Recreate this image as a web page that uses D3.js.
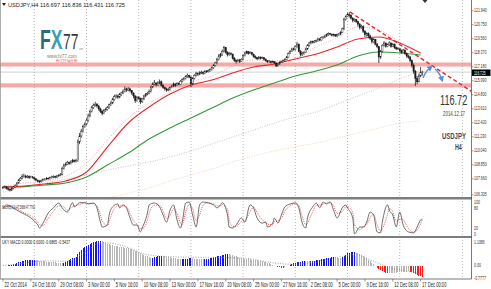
<!DOCTYPE html>
<html>
<head>
<meta charset="utf-8">
<script src="https://cdn.jsdelivr.net/npm/d3@7"></script>
<style>
  html, body { margin: 0; padding: 0; background: #fff; }
  svg { display: block; font-family: "Liberation Sans", Arial, sans-serif; }
</style>
</head>
<body>
<svg id="chart" width="491" height="289"></svg>
<script>
// ---- data (USDJPY H4, 22 Oct - 17 Dec 2014) ----
var firstOpen = 106.90;
var closes = [
  106.92,106.98,106.85,106.78,106.70,106.85, 106.95,107.10,107.30,107.55,107.70,107.85,
  107.90,107.80,107.88,107.75,107.82,107.78, 107.65,107.55,107.45,107.40,107.52,107.60,
  107.62,107.70,107.68,107.75,107.80,107.85, 107.80,107.90,107.95,108.00,108.55,108.80,
  108.90,109.05,108.95,109.10,109.20,109.15, 109.20,110.80,111.30,111.70,112.10,112.30,
  112.60,113.00,113.40,113.70,113.90,114.00, 113.85,113.60,113.40,113.20,113.45,113.55,
  113.70,113.95,114.10,114.40,114.65,114.70, 114.60,114.80,114.95,115.10,115.30,115.20,
  115.30,115.15,114.95,114.70,114.30,114.60, 114.50,114.20,114.45,114.70,114.85,114.90,
  115.10,115.45,115.70,115.80,115.65,115.80, 115.90,115.60,115.40,115.30,115.20,115.25,
  115.40,115.55,115.70,115.60,115.75,115.70, 115.95,116.10,116.20,116.35,116.45,116.30,
  115.70,116.20,116.45,116.60,116.55,116.65, 116.70,116.60,116.80,116.75,116.85,116.95,
  117.10,117.30,117.50,117.80,118.10,118.20, 118.50,118.80,118.40,118.20,118.30,118.25,
  117.90,117.70,117.60,117.75,117.65,117.80, 118.15,118.35,118.45,118.30,118.40,118.25,
  118.05,117.95,117.85,118.00,117.90,117.95, 117.80,117.70,117.60,117.65,117.55,117.60,
  117.50,117.25,117.40,117.55,117.60,117.70, 117.80,118.00,118.30,118.50,118.70,118.65,
  118.90,119.10,118.50,118.20,118.30,118.40, 118.70,119.00,119.20,119.30,119.25,119.35,
  119.40,119.55,119.45,119.65,119.70,119.80, 119.90,120.00,119.95,119.85,119.90,119.80,
  119.90,119.95,120.10,120.40,121.20,121.45, 121.60,121.55,121.30,121.10,121.20,121.00,
  120.80,120.50,120.60,120.20,119.90,120.00, 119.80,119.60,119.30,119.50,119.10,118.90,
  118.00,118.50,119.00,119.20,118.90,119.05, 119.20,118.90,119.10,118.80,118.70,118.75,
  118.55,118.40,118.60,118.30,118.10,118.00, 117.70,117.30,116.80,116.20,115.90,116.40,
  116.70,116.725
];
var highs = [
  107.05,107.10,107.02,106.92,106.85,106.95, 107.05,107.18,107.38,107.65,107.82,108.05,
  108.10,108.00,107.98,107.95,107.92,107.90, 107.85,107.72,107.60,107.55,107.60,107.70,
  107.72,107.80,107.78,107.85,107.92,107.95, 107.92,108.00,108.05,108.15,108.70,108.95,
  109.05,109.18,109.12,109.22,109.35,109.30, 109.35,111.00,111.55,111.90,112.25,112.45,
  112.80,113.20,113.55,113.85,114.05,114.20, 114.10,113.95,113.70,113.50,113.60,113.70,
  113.85,114.05,114.25,114.55,114.80,114.85, 114.80,114.95,115.05,115.25,115.50,115.40,
  115.45,115.40,115.20,115.00,114.75,114.70, 114.70,114.55,114.55,114.80,114.95,115.05,
  115.25,115.55,115.85,116.05,115.85,115.95, 116.10,116.00,115.70,115.50,115.40,115.40,
  115.50,115.65,115.85,115.80,115.85,115.85, 116.05,116.20,116.30,116.45,116.60,116.50,
  116.40,116.30,116.55,116.75,116.70,116.80, 116.85,116.80,116.90,116.90,116.95,117.05,
  117.20,117.40,117.60,117.95,118.25,118.35, 118.65,118.95,118.85,118.50,118.45,118.40,
  118.30,118.00,117.80,117.85,117.85,117.90, 118.25,118.45,118.55,118.50,118.50,118.45,
  118.30,118.15,118.00,118.10,118.05,118.05, 118.00,117.90,117.75,117.75,117.70,117.70,
  117.65,117.55,117.50,117.65,117.70,117.80, 117.90,118.10,118.40,118.60,118.80,118.80,
  119.00,119.30,119.15,118.60,118.45,118.50, 118.80,119.10,119.30,119.40,119.40,119.45,
  119.50,119.65,119.60,119.75,119.80,119.90, 120.00,120.10,120.05,120.00,120.00,119.95,
  120.00,120.05,120.20,120.50,121.35,121.55, 121.80,121.85,121.65,121.40,121.30,121.25,
  121.10,120.90,120.75,120.70,120.30,120.10, 120.10,119.90,119.65,119.60,119.55,119.20,
  118.95,118.60,119.10,119.35,119.25,119.15, 119.35,119.25,119.20,119.15,118.90,118.85,
  118.80,118.65,118.70,118.65,118.40,118.20, 118.10,117.80,117.45,116.90,116.40,116.60,
  117.15,116.836
];
var lows = [
  106.80,106.85,106.75,106.66,106.58,106.62, 106.78,106.90,107.02,107.25,107.48,107.62,
  107.75,107.70,107.72,107.65,107.70,107.68, 107.55,107.45,107.35,107.28,107.35,107.45,
  107.50,107.55,107.58,107.60,107.68,107.72, 107.70,107.72,107.82,107.88,107.95,108.45,
  108.70,108.82,108.85,108.88,109.00,109.05, 109.05,109.10,110.60,111.15,111.60,112.00,
  112.20,112.50,112.90,113.30,113.60,113.80, 113.70,113.45,113.25,113.05,113.15,113.35,
  113.45,113.60,113.85,114.00,114.30,114.50, 114.45,114.50,114.70,114.85,115.00,115.05,
  115.10,115.00,114.80,114.50,114.10,114.20, 114.35,114.00,114.10,114.35,114.60,114.75,
  114.85,115.00,115.35,115.60,115.50,115.55, 115.70,115.50,115.30,115.15,115.05,115.10,
  115.15,115.35,115.45,115.45,115.55,115.60, 115.65,115.85,116.00,116.10,116.25,116.20,
  115.45,115.60,116.10,116.35,116.40,116.45, 116.55,116.50,116.55,116.65,116.70,116.75,
  116.85,117.00,117.20,117.45,117.70,117.95, 118.10,118.40,118.30,118.05,118.10,118.15,
  117.80,117.60,117.45,117.55,117.50,117.60, 117.75,118.05,118.25,118.20,118.25,118.15,
  117.95,117.85,117.75,117.80,117.80,117.85, 117.70,117.60,117.50,117.50,117.45,117.50,
  117.40,117.15,117.20,117.35,117.50,117.55, 117.60,117.75,117.95,118.25,118.45,118.55,
  118.55,118.80,118.40,118.05,118.10,118.20, 118.35,118.60,118.90,119.10,119.15,119.20,
  119.25,119.30,119.35,119.40,119.55,119.60, 119.70,119.80,119.85,119.75,119.75,119.70,
  119.70,119.80,119.85,120.05,120.30,121.10, 121.40,121.35,121.20,120.95,121.00,120.90,
  120.60,120.35,120.40,120.05,119.70,119.75, 119.60,119.45,119.15,119.20,119.00,118.75,
  117.50,117.85,118.40,118.90,118.80,118.85, 118.95,118.80,118.85,118.70,118.60,118.60,
  118.40,118.30,118.35,118.20,117.95,117.85, 117.55,117.10,116.60,115.55,115.70,115.85,
  116.30,116.431
];

// moving averages, read every 12 bars
var maBars   = [0,12,24,36,48,60,72,84,96,108,120,132,144,156,168,180,192,204,216,228,240];
var maRed    = [106.96,107.05,107.22,107.47,108.24,110.36,112.40,113.76,114.86,115.63,116.05,116.65,117.16,117.41,117.84,118.26,118.86,119.54,119.71,119.20,118.35];
var maGreen  = [106.96,107.00,107.13,107.30,107.81,108.83,109.85,111.04,111.97,112.82,113.67,114.52,115.20,115.80,116.39,116.82,117.33,118.09,118.43,118.35,118.18];
var maPink   = [106.96,107.30,107.47,107.90,109.00,110.96,112.82,114.10,115.03,115.88,116.39,117.24,117.75,117.67,117.92,118.86,119.62,120.56,120.30,119.28,118.01];
var maSilver = [106.54,106.96,107.30,107.64,107.98,108.41,108.75,109.09,109.51,110.02,110.62,111.21,111.80,112.40,112.91,113.33,114.01,114.69,115.37,116.14,116.82];
var maTan    = [103.90,104.33,104.75,105.18,105.60,106.03,106.45,106.88,107.47,107.98,108.49,109.09,109.60,110.02,110.36,110.70,111.12,111.55,111.97,112.40,112.57];

// stochastic (5,3,3)
var stochBars = [0,2,8,11,16,20,21,23,26,29,32,34,37,40,41,44,47,49,52,54,56,57,60,61,63,66,67,69,71,73,75,77,79,80,83,84,87,90,92,94,96,98,100,102,103,105,107,109,111,113,115,118,121,123,125,126,129,130,132,134,137,139,142,144,146,149,151,152,155,156,158,160,162,165,168,170,172,174,175,178,180,182,184,186,188,190,192,195,197,198,201,202,205,207,209,211,213,215,217,218,221,222,224,226,228,230,233,236,238,240,241];
var stochMain = [82,91,75,66,51,29,20,35,66,82,97,82,69,98,85,98,98,94,97,82,38,23,29,60,85,94,82,91,82,51,29,29,8,20,66,91,97,85,60,38,75,91,45,20,38,97,100,60,23,91,100,97,91,82,91,98,60,23,20,29,51,38,91,82,51,35,38,23,35,51,35,60,85,94,97,82,35,20,51,85,97,82,100,94,100,75,51,82,91,82,51,2,23,23,38,69,60,8,5,38,91,75,60,23,69,29,8,5,23,45,47.57];
var stochSignal = [80,86,80,70,57,38,30,28,50,72,88,88,75,85,88,92,97,96,95,88,60,42,28,40,70,88,88,88,85,65,42,32,18,18,45,65,90,90,72,50,58,80,65,35,30,70,92,80,42,60,90,98,94,88,88,92,78,45,25,24,40,42,70,85,68,45,38,32,30,40,42,50,72,88,95,90,55,30,35,70,90,90,93,97,97,88,65,70,85,85,68,30,15,22,30,52,62,30,10,18,62,80,70,40,48,45,18,7,14,33,47.78];

// UKY MACD histogram, one value per bar
var macdHist = [
  0.03,0.02,
  0.03,0.05,0.07,0.09,0.12,0.15,0.18,0.23,0.28,0.32,0.35,0.37,0.38,0.39,0.40,0.405,0.41,
  0.38,0.36,0.34,0.32,0.30,0.29,0.28,0.27,0.26,0.25,0.24,0.23,0.22,0.21,0.20,0.19,
  0.22,0.27,0.32,0.37,0.42,0.48,0.54,0.60,0.75,0.92,1.05,1.15,1.23,1.30,1.36,1.42,1.47,1.51,1.54,1.57,1.60,1.62,
  1.58,1.53,1.48,1.42,1.38,1.35,1.32,1.30,1.28,1.26,1.24,1.22,1.20,1.18,1.16,1.13,1.10,1.07,1.04,0.99,0.94,0.89,0.84,0.78,0.73,0.67,0.62,0.57,0.52,
  0.54,0.57,0.60,0.62,0.64,0.65,
  0.63,0.61,0.59,0.57,0.55,0.53,0.51,0.49,0.47,0.45,0.43,
  0.44,0.45,0.46,0.47,0.48,0.49,
  0.48,0.47,0.46,0.45,0.44,0.43,0.42,
  0.43,0.45,0.47,0.49,0.52,0.55,0.58,0.61,0.64,0.67,0.70,0.73,0.76,0.78,
  0.76,0.73,0.70,0.66,0.62,0.58,0.54,0.50,0.47,0.45,0.44,0.43,0.42,0.41,0.40,0.39,0.37,0.35,0.33,0.31,0.28,0.25,0.21,0.17,0.12,0.07,0.02,
  -0.03,-0.06,-0.08,-0.10,-0.11,
  -0.08,-0.03,0.03,0.08,0.12,0.16,0.20,0.23,0.26,0.28,0.30,0.32,
  0.31,0.30,0.29,
  0.31,0.33,0.35,0.37,0.39,0.41,0.43,0.45,0.47,0.49,0.51,0.53,0.55,0.56,
  0.55,0.53,0.50,0.48,
  0.56,0.64,0.72,0.80,0.85,0.88,0.90,0.91,
  0.85,0.80,0.74,0.68,0.62,0.55,0.48,0.40,0.31,0.21,0.10,
  -0.02,-0.10,-0.20,-0.28,-0.35,-0.40,-0.44,-0.47,
  -0.46,-0.45,-0.44,-0.43,-0.42,-0.41,-0.40,-0.39,-0.38,-0.37,-0.36,-0.35,
  -0.37,-0.40,-0.45,-0.52,-0.58,-0.63,-0.66,-0.6865
];
var macdSigBars = [0,12,24,36,48,56,64,72,83,100,120,139,156,168,180,195,202,212,222,231,241];
var macdSignal  = [0.03,0.18,0.33,0.30,0.95,1.50,1.42,1.18,0.72,0.58,0.55,0.50,0.19,0.10,0.30,0.62,0.74,0.35,-0.10,-0.30,-0.5437];

// horizontal zones, trend line, arrows (price / bar coordinates)
var zones = [[117.20, 117.54], [115.42, 115.77]];
var lastPrice = 116.725;
var trendLine = [[199.4, 121.83], [270.7, 114.95]];
var arrows = [[[241.4, 116.22], [246.0, 117.16]], [[248.3, 116.99], [252.3, 116.05]]];

// axis labels
var priceTicks = [121.940, 120.750, 119.560, 118.370, 117.180, 115.990, 114.800, 113.610, 112.420, 111.230, 110.040, 108.850, 107.660, 106.305];
var timeLabels = ['22 Oct 2014','24 Oct 16:00','29 Oct 08:00','3 Nov 00:00','5 Nov 16:00','10 Nov 08:00','13 Nov 00:00','17 Nov 16:00','20 Nov 08:00','25 Nov 00:00','27 Nov 16:00','2 Dec 08:00','5 Dec 00:00','9 Dec 16:00','12 Dec 08:00','17 Dec 00:00'];
var timeLabelStep = 16;
var gridBars = [18, 48, 78, 108, 138, 168, 198, 228, 264];
var stochTicks = [100, 80, 20, 0];

// ---- layout ----
var SQ = 0.63; // the screenshot is squeezed horizontally
var plotR = 471.5;
var svg = d3.select('#chart');

var x  = d3.scaleLinear().domain([0, 240]).range([3, 420.6]);
var yP = d3.scaleLinear().domain([106.14, 122.85]).range([196.7, 0]);
var yS = d3.scaleLinear().domain([0, 100]).range([234.5, 202]);
var yM = d3.scaleLinear().domain([-0.7777, 1.8]).range([278.1, 237.9]);

function txt(g, px, py, s, size, fill, o) {
  o = o || {};
  var t = g.append('text')
    .attr('transform', 'translate(' + px + ',' + py + ')' + (o.len ? '' : ' scale(' + (o.sq || SQ) + ',1)'))
    .attr('font-size', size)
    .attr('fill', fill)
    .attr('text-anchor', o.anchor || 'start')
    .text(s);
  if (o.len) t.attr('textLength', o.len).attr('lengthAdjust', 'spacingAndGlyphs');
  if (o.weight) t.attr('font-weight', o.weight);
  return t;
}

svg.append('rect').attr('width', 491).attr('height', 289).attr('fill', '#fff');

var defs = svg.append('defs');
defs.append('clipPath').attr('id', 'cMain').append('rect').attr('x', 0).attr('y', 0).attr('width', plotR).attr('height', 197);
defs.append('clipPath').attr('id', 'cStoch').append('rect').attr('x', 0).attr('y', 199.5).attr('width', plotR).attr('height', 36.5);
defs.append('clipPath').attr('id', 'cMacd').append('rect').attr('x', 0).attr('y', 238).attr('width', plotR).attr('height', 41);
defs.append('marker').attr('id', 'ahead').attr('viewBox', '0 0 10 10').attr('refX', 6).attr('refY', 5)
  .attr('markerWidth', 4).attr('markerHeight', 4).attr('orient', 'auto')
  .append('path').attr('d', 'M0,0 L10,5 L0,10 z').attr('fill', '#5b8fd8');

// ---- main pane ----
var main = svg.append('g').attr('clip-path', 'url(#cMain)');

main.selectAll('rect.zone').data(zones).join('rect').attr('class', 'zone')
  .attr('x', 0).attr('width', plotR)
  .attr('y', function(d) { return yP(d[1]); })
  .attr('height', function(d) { return yP(d[0]) - yP(d[1]); })
  .attr('fill', '#f7a9a8');

main.append('line').attr('x1', 0).attr('x2', plotR)
  .attr('y1', yP(lastPrice)).attr('y2', yP(lastPrice))
  .attr('stroke', '#c4c4c4').attr('stroke-width', 0.8);

// weekly grid lines across all panes
svg.append('g').selectAll('line').data(gridBars).join('line')
  .attr('x1', function(d) { return x(d); }).attr('x2', function(d) { return x(d); })
  .attr('y1', 0).attr('y2', 279)
  .attr('stroke', '#9a9a9a').attr('stroke-width', 0.7).attr('stroke-dasharray', '1,2');

var maLine = d3.line()
  .x(function(d, k) { return x(maBars[k]); })
  .y(function(d) { return yP(d); })
  .curve(d3.curveMonotoneX);

[[maTan, '#eccfa8', 0.8, '1,1.5'], [maSilver, '#b8b8b8', 0.8, '1,1.5'], [maPink, '#f19a9a', 0.8, '1,1.5'],
 [maGreen, '#2f9a3a', 1.1, null], [maRed, '#e5262b', 1.1, null]].forEach(function(m) {
  main.append('path').attr('d', maLine(m[0]))
    .attr('fill', 'none').attr('stroke', m[1]).attr('stroke-width', m[2])
    .attr('stroke-dasharray', m[3]);
});

var candles = closes.map(function(c, i) {
  return { i: i, o: i ? closes[i - 1] : firstOpen, h: highs[i], l: lows[i], c: c };
});
var gC = main.append('g');
gC.selectAll('line').data(candles).join('line')
  .attr('x1', function(d) { return x(d.i); }).attr('x2', function(d) { return x(d.i); })
  .attr('y1', function(d) { return yP(d.h); }).attr('y2', function(d) { return yP(d.l); })
  .attr('stroke', '#1a1a1a').attr('stroke-width', 0.8);
gC.selectAll('rect').data(candles).join('rect')
  .attr('x', function(d) { return x(d.i) - 0.7; }).attr('width', 1.4)
  .attr('y', function(d) { return yP(Math.max(d.o, d.c)); })
  .attr('height', function(d) { return Math.max(0.5, Math.abs(yP(d.o) - yP(d.c))); })
  .attr('fill', function(d) { return d.c >= d.o ? '#fff' : '#1a1a1a'; })
  .attr('stroke', '#1a1a1a').attr('stroke-width', 0.4);

main.append('line')
  .attr('x1', x(trendLine[0][0])).attr('y1', yP(trendLine[0][1]))
  .attr('x2', x(trendLine[1][0])).attr('y2', yP(trendLine[1][1]))
  .attr('stroke', '#e3262a').attr('stroke-width', 1.4).attr('stroke-dasharray', '4,2.5');

arrows.forEach(function(a) {
  var x0 = x(a[0][0]), y0 = yP(a[0][1]), x1 = x(a[1][0]), y1 = yP(a[1][1]);
  var cx = (x0 + x1) / 2 + (y1 - y0) * 0.15, cy = (y0 + y1) / 2 - (x1 - x0) * 0.15;
  main.append('path').attr('d', 'M' + x0 + ',' + y0 + ' Q' + cx + ',' + cy + ' ' + x1 + ',' + y1)
    .attr('fill', 'none').attr('stroke', '#5b8fd8').attr('stroke-width', 1.5)
    .attr('marker-end', 'url(#ahead)');
});

// logo
var logo = svg.append('g');
var fx = logo.append('text').attr('transform', 'translate(40,49) scale(' + SQ + ',1)')
  .attr('font-size', 28).attr('font-weight', 'bold');
fx.append('tspan').attr('fill', '#2b6a76').text('F');
fx.append('tspan').attr('fill', '#3b9fb3').text('X');
txt(logo, 63, 49, '77', 22, '#3a3a3a');
txt(logo, 79, 49.5, 'com', 3.5, '#888');
txt(logo, 47, 57.5, 'www.fx77.com', 4.5, '#808080', { len: 30 });
txt(logo, 56, 61.5, '外汇行情分析', 4, '#e04040', { len: 21 });

// header and right-side notes
svg.append('path').attr('d', 'M2,3 L6,3 L4,6 z').attr('fill', '#222');
txt(svg, 8, 7, 'USDJPY,H4  116.697 116.836 116.431 116.725', 6, '#222', { len: 117 });
svg.append('path').attr('d', 'M' + (x(242.5) - 2.5) + ',0 L' + (x(242.5) + 2.5) + ',0 L' + x(242.5) + ',3 z').attr('fill', '#333');

txt(svg, 440, 104.5, '116.72', 14.5, '#333');
txt(svg, 443, 116, '2014.12.17', 7, '#444');
txt(svg, 442, 138.5, 'USDJPY', 9.5, '#3e4b5b', { weight: 'bold' });
txt(svg, 455, 149.5, 'H4', 8.5, '#3e4b5b', { weight: 'bold' });

// ---- stochastic pane ----
var stoch = svg.append('g').attr('clip-path', 'url(#cStoch)');
var sLine = d3.line()
  .x(function(d, k) { return x(stochBars[k]); })
  .y(function(d) { return yS(d); })
  .curve(d3.curveMonotoneX);
stoch.append('path').attr('d', sLine(stochSignal))
  .attr('fill', 'none').attr('stroke', '#e04040').attr('stroke-width', 0.8).attr('stroke-dasharray', '1,1');
stoch.append('path').attr('d', sLine(stochMain))
  .attr('fill', 'none').attr('stroke', '#4a4a4a').attr('stroke-width', 0.8);
txt(svg, 2, 208.5, 'Stoch(5,3,3) 47.5688 47.7762', 5, '#222', { len: 33 });

// ---- MACD pane ----
var macd = svg.append('g').attr('clip-path', 'url(#cMacd)');
macd.selectAll('rect').data(macdHist).join('rect')
  .attr('x', function(d, i) { return x(i) - 0.5; }).attr('width', 1)
  .attr('y', function(d) { return Math.min(yM(d), yM(0)); })
  .attr('height', function(d) { return Math.abs(yM(d) - yM(0)); })
  .attr('shape-rendering', 'crispEdges')
  .attr('fill', function(d, i) {
    var p = i ? macdHist[i - 1] : d;
    if (d > p && d > 0) return '#1414f0';
    if (d < p && d < 0) return '#ff1a1a';
    return '#b6b6b6';
  });
var mLine = d3.line()
  .x(function(d, k) { return x(macdSigBars[k]); })
  .y(function(d) { return yM(d); })
  .curve(d3.curveMonotoneX);
macd.append('path').attr('d', mLine(macdSignal))
  .attr('fill', 'none').attr('stroke', '#8a8a8a').attr('stroke-width', 0.8).attr('stroke-dasharray', '1,1.5');
txt(svg, 2, 243.5, 'UKY MACD 0.0000 0.0000 -0.6865 -0.5437', 5, '#222', { len: 68 });

// ---- frames and axes ----
svg.append('rect').attr('x', 0).attr('y', 197).attr('width', plotR + 0.5).attr('height', 2.5).attr('fill', '#7d7d7d');
svg.append('rect').attr('x', 0).attr('y', 236).attr('width', plotR + 0.5).attr('height', 2).attr('fill', '#7d7d7d');
svg.append('line').attr('x1', 0).attr('x2', plotR).attr('y1', 279).attr('y2', 279).attr('stroke', '#555').attr('stroke-width', 0.8);
svg.append('line').attr('x1', plotR).attr('x2', plotR).attr('y1', 0).attr('y2', 279).attr('stroke', '#555').attr('stroke-width', 0.8);
svg.append('line').attr('x1', 0.5).attr('x2', 0.5).attr('y1', 0).attr('y2', 279).attr('stroke', '#999').attr('stroke-width', 0.8);

var axis = svg.append('g');
priceTicks.forEach(function(v) {
  axis.append('line').attr('x1', plotR).attr('x2', plotR + 2).attr('y1', yP(v)).attr('y2', yP(v)).attr('stroke', '#555').attr('stroke-width', 0.6);
  txt(axis, 474, yP(v) + 1.5, v.toFixed(3), 5.6, '#333');
});
axis.append('rect').attr('x', plotR + 0.5).attr('y', yP(lastPrice) - 2.6).attr('width', 18.5).attr('height', 6.4).attr('fill', '#000');
txt(axis, 474, yP(lastPrice) + 2.7, lastPrice.toFixed(3), 5.2, '#fff');

stochTicks.forEach(function(v) {
  txt(axis, 474, yS(v) + 1.5, String(v), 5.6, '#333');
});
txt(axis, 474, 244, '1.1086', 5.6, '#333');
txt(axis, 474, yM(0) + 1.5, '0.00', 5.6, '#333');
txt(axis, 474, 279.5, '-0.7777', 5.6, '#333');

timeLabels.forEach(function(s, k) {
  var bx = x(k * timeLabelStep);
  axis.append('line').attr('x1', bx).attr('x2', bx).attr('y1', 279).attr('y2', 281.5).attr('stroke', '#555').attr('stroke-width', 0.6);
  txt(axis, bx + 1.5, 286.5, s, 6.5, '#222');
});
</script>
</body>
</html>
